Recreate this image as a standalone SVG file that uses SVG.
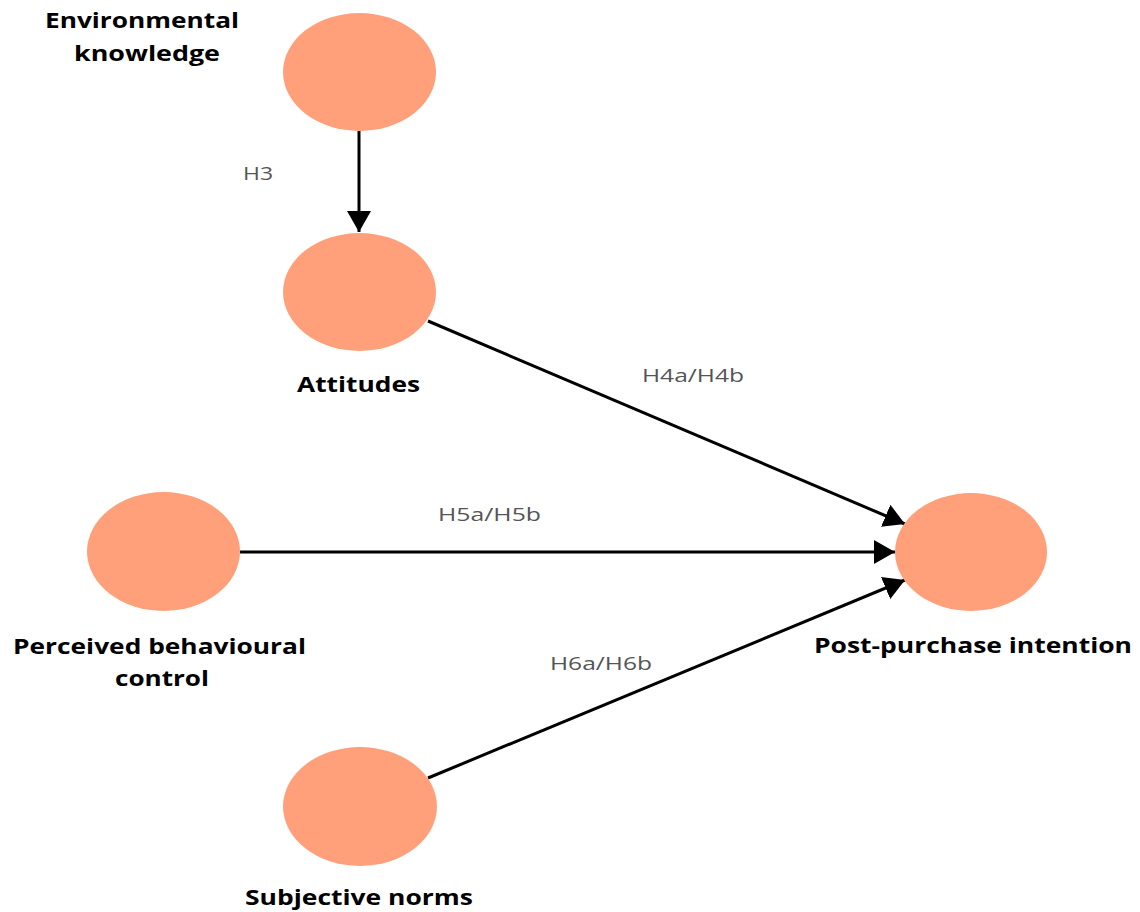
<svg xmlns="http://www.w3.org/2000/svg" width="1140" height="912" viewBox="0 0 1140 912">
  <style>
    .node { fill: #FFA07A; }
    .title { font-family: "Open Sans", "Liberation Sans", sans-serif; font-weight: bold; font-size: 22px; fill: #000; text-anchor: middle; }
    .lbl { font-family: "Open Sans", "Liberation Sans", sans-serif; font-size: 19px; fill: #555; text-anchor: middle; }
    .edge { stroke: #000; stroke-width: 3; fill: none; marker-end: url(#arrow); }
  </style>
  <defs>
    <marker id="arrow" markerUnits="userSpaceOnUse" markerWidth="21" markerHeight="24" refX="21" refY="12" orient="auto" viewBox="0 0 21 24">
      <path d="M0,0 L21,12 L0,24 Z" fill="#000"/>
    </marker>
  </defs>
  <rect width="1140" height="912" fill="#fff"/>

  <g id="connectors">
    <line class="edge" x1="359" y1="131" x2="359" y2="232"/>
    <line class="edge" x1="428" y1="321" x2="905" y2="524"/>
    <line class="edge" x1="240" y1="552" x2="895" y2="552"/>
    <line class="edge" x1="428" y1="778" x2="905" y2="580"/>
    <text class="lbl" x="258" y="180" textLength="30" lengthAdjust="spacingAndGlyphs">H3</text>
    <text class="lbl" x="693" y="382" textLength="102" lengthAdjust="spacingAndGlyphs">H4a/H4b</text>
    <text class="lbl" x="489.5" y="521" textLength="103" lengthAdjust="spacingAndGlyphs">H5a/H5b</text>
    <text class="lbl" x="601" y="670" textLength="102" lengthAdjust="spacingAndGlyphs">H6a/H6b</text>
  </g>

  <g id="environmental-knowledge">
    <ellipse class="node" cx="359.5" cy="72" rx="76.5" ry="59"/>
    <text class="title" x="142" y="28" textLength="194" lengthAdjust="spacingAndGlyphs">Environmental</text>
    <text class="title" x="147" y="61" textLength="146" lengthAdjust="spacingAndGlyphs">knowledge</text>
  </g>

  <g id="attitudes">
    <ellipse class="node" cx="359.5" cy="292" rx="76.5" ry="59"/>
    <text class="title" x="358.5" y="392" textLength="123" lengthAdjust="spacingAndGlyphs">Attitudes</text>
  </g>

  <g id="perceived-behavioural-control">
    <ellipse class="node" cx="163.5" cy="551.5" rx="76.5" ry="59.5"/>
    <text class="title" x="159.5" y="654" textLength="293" lengthAdjust="spacingAndGlyphs">Perceived behavioural</text>
    <text class="title" x="162" y="686" textLength="94" lengthAdjust="spacingAndGlyphs">control</text>
  </g>

  <g id="subjective-norms">
    <ellipse class="node" cx="360" cy="806.5" rx="77" ry="59.5"/>
    <text class="title" x="359" y="905" textLength="228" lengthAdjust="spacingAndGlyphs">Subjective norms</text>
  </g>

  <g id="post-purchase-intention">
    <ellipse class="node" cx="971" cy="552" rx="76" ry="59"/>
    <text class="title" x="973" y="653" textLength="318" lengthAdjust="spacingAndGlyphs">Post-purchase intention</text>
  </g>
</svg>
